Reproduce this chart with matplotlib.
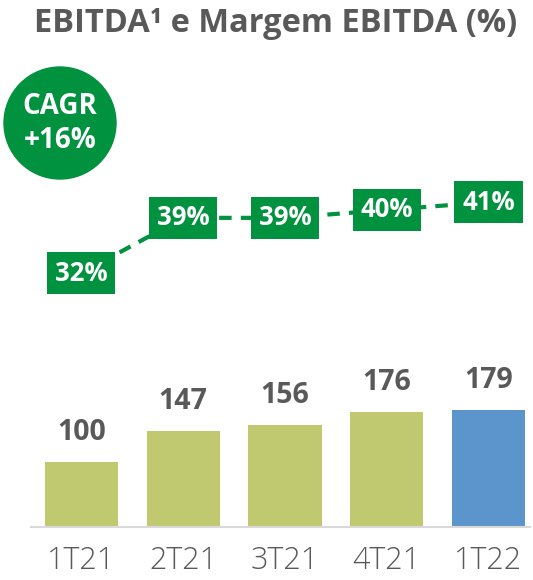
import matplotlib.pyplot as plt
from matplotlib.patches import Ellipse

periodos = ['1T21', '2T21', '3T21', '4T21', '1T22']
ebitda = [100, 147, 156, 176, 179]
margem = [32, 39, 39, 40, 41]
margem_txt = ['32%', '39%', '39%', '40%', '41%']

verde = '#00923f'
oliva = '#c0c970'
azul = '#5b95cb'
cinza = '#595959'
plt.rcParams['font.family'] = ['Open Sans', 'DejaVu Sans']

fig = plt.figure(figsize=(5.33, 5.8), dpi=100)
ax = fig.add_axes([31/533, 53/580, 499/533, 347/580])

cores = [oliva]*4 + [azul]
x = range(len(periodos))
ax.bar(x, ebitda, width=0.72, color=cores)
ax.set_xlim(-0.496, 4.408)
ax.set_ylim(0, 530)
for i, v in enumerate(ebitda):
    ax.annotate(str(v), (i, v), xytext=(0, 29), textcoords='offset pixels',
                ha='center', va='center', fontsize=20.5, fontweight='bold', color=cinza)

for s in ['top', 'right', 'left']:
    ax.spines[s].set_visible(False)
ax.spines['bottom'].set_color('#d9d9d9')
ax.spines['bottom'].set_linewidth(1.5)
ax.set_yticks([])
ax.set_xticks(list(x))
ax.set_xticklabels(periodos, fontsize=22, fontweight='light', color=cinza)
ax.tick_params(axis='x', length=0, pad=13)

ax2 = ax.twinx()
ax2.set_ylim(-0.2, 43.8)
ax2.axis('off')
ax2.plot(x, margem, color=verde, lw=3, ls=(0, (3, 2.2)))
for i, v in enumerate(margem):
    ax2.text(i, v, margem_txt[i], ha='center', va='center', fontsize=18.5,
             fontweight='bold', color='white',
             bbox=dict(boxstyle='square,pad=0.3', fc=verde, ec='none'))

fig.text(276/533, 1 - 23/580, 'EBITDA¹ e Margem EBITDA (%)', ha='center', va='center',
         fontsize=23.5, fontweight='bold', color=cinza)

circ = Ellipse((60/533, 1 - 123/580), 112/533, 112/580, transform=fig.transFigure,
               color=verde)
fig.add_artist(circ)
fig.text(60/533, 1 - 106/580, 'CAGR', ha='center', va='center', fontsize=20,
         fontweight='bold', color='white')
fig.text(60/533, 1 - 141/580, '+16%', ha='center', va='center', fontsize=20,
         fontweight='bold', color='white')

plt.savefig('out.png', dpi=100)
